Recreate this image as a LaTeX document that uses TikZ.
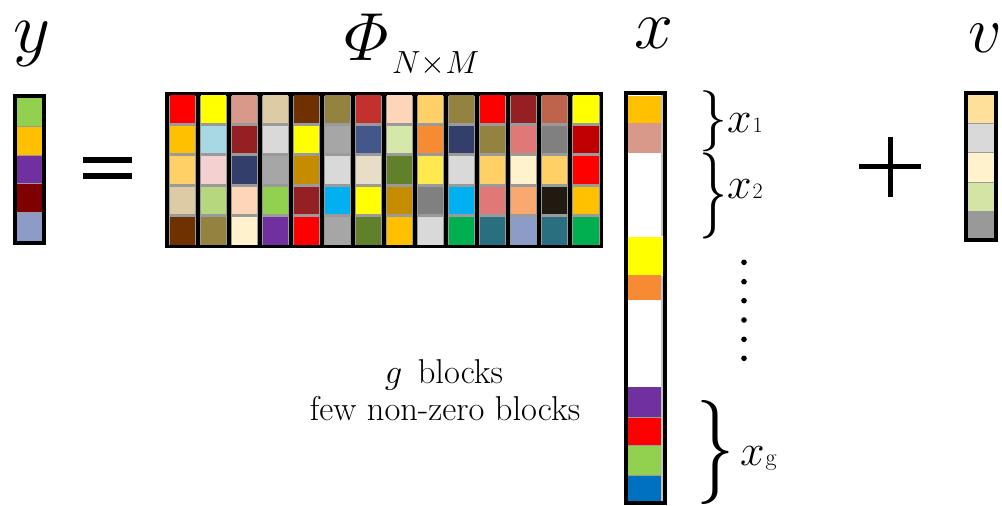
\RequirePackage{fix-cm}
\documentclass[tikz,border=0pt]{standalone}
\usepackage{amsmath}
\usepackage{graphicx}

% palette
\definecolor{cRed}{HTML}{FF0000}
\definecolor{cYellow}{HTML}{FFFF00}
\definecolor{cOrange}{HTML}{FFC000}
\definecolor{cLtOrange}{HTML}{FFD066}
\definecolor{cTan}{HTML}{DCCBA5}
\definecolor{cBrown}{HTML}{6F3100}
\definecolor{cLtBlue}{HTML}{A7D8E4}
\definecolor{cPink}{HTML}{F4D0D0}
\definecolor{cLtGreen}{HTML}{B7D77F}
\definecolor{cOlive}{HTML}{948241}
\definecolor{cSalmon}{HTML}{D8988A}
\definecolor{cDkRed}{HTML}{952024}
\definecolor{cNavy}{HTML}{333F6A}
\definecolor{cPeach}{HTML}{FDD5B8}
\definecolor{cCream}{HTML}{FFF2CC}
\definecolor{cLtGray}{HTML}{D9D9D9}
\definecolor{cGray}{HTML}{A6A6A6}
\definecolor{cGreen}{HTML}{92D050}
\definecolor{cPurple}{HTML}{7030A0}
\definecolor{cGold}{HTML}{C58C00}
\definecolor{cCyan}{HTML}{00B0F0}
\definecolor{cBrick}{HTML}{C3312F}
\definecolor{cBlue}{HTML}{44578A}
\definecolor{cSand}{HTML}{E8DEC8}
\definecolor{cMoss}{HTML}{60802A}
\definecolor{cPaleGreen}{HTML}{D6E8A9}
\definecolor{cTangerine}{HTML}{F68B34}
\definecolor{cLemon}{HTML}{FFE94F}
\definecolor{cMidGray}{HTML}{808080}
\definecolor{cEmerald}{HTML}{00B050}
\definecolor{cRose}{HTML}{E07878}
\definecolor{cTeal}{HTML}{2A6F80}
\definecolor{cApricot}{HTML}{F9A870}
\definecolor{cSteel}{HTML}{8C9CC6}
\definecolor{cTerra}{HTML}{BE644C}
\definecolor{cNearBlack}{HTML}{201A10}
\definecolor{cCrimson}{HTML}{C00000}
\definecolor{cMaroon}{HTML}{7F0000}
\definecolor{cButter}{HTML}{FFE09A}
\definecolor{cSage}{HTML}{D3E4A4}
\definecolor{cStone}{HTML}{999999}
\definecolor{cRoyal}{HTML}{0070C0}
\definecolor{cSep}{HTML}{9A9A9A}

\tikzset{
  vecframe/.style={draw=black, line width=4pt},
  cellsep/.style={draw=cSep, line width=0.8pt},
  biglabel/.style={anchor=base, inner sep=0pt},
  txt/.style={anchor=base, inner sep=0pt, font=\fontsize{34.5}{40}\selectfont},
  sublabel/.style={anchor=base west, inner sep=0pt},
  bracenode/.style={anchor=west, inner sep=0pt},
  opbar/.style={line width=6pt},
}

% a stretched closing brace of given width and total height
\newcommand{\blockbrace}[2]{\resizebox*{#1}{#2}{\}}}
% block label: italic x with an upright index set beside it
\newcommand{\blocklabel}[2]{\fontsize{44}{44}\selectfont$x$\kern1pt\fontsize{#2}{#2}\selectfont #1}

\begin{document}
\begin{tikzpicture}[x=1pt, y=-1pt]
\useasboundingbox (0,0) rectangle (1002,506);

% ---------- y vector ----------
\node[biglabel] (ylab) at (32,52) {\fontsize{72}{72}\selectfont$y$};
\foreach \clr [count=\r from 0] in {cGreen,cOrange,cPurple,cMaroon,cSteel}{
  \fill[\clr] (17,{98+\r*28.6}) rectangle (42,{98+(\r+1)*28.6});
}
\foreach \r in {1,...,4}{
  \draw[cellsep] (17,{98+\r*28.6}) -- (42,{98+\r*28.6});
}
\draw[vecframe] (15,96) rectangle (44,243);

% ---------- equals ----------
\coordinate (eqA) at (83,160);
\coordinate (eqB) at (132,160);
\coordinate (eqC) at (83,176);
\coordinate (eqD) at (132,176);
\draw[opbar] (eqA) -- (eqB);
\draw[opbar] (eqC) -- (eqD);

% ---------- matrix Phi ----------
\node[sublabel] (philab) at (344,60) {\fontsize{68}{68}\selectfont$\varPhi$};
\node[sublabel] (phisub) at (392,73) {\fontsize{32}{32}\selectfont$N{\times}M$};

\fill[black] (165,92) rectangle (603,248);
\foreach \col [count=\k from 0] in {
  {cRed,cOrange,cLtOrange,cTan,cBrown},
  {cYellow,cLtBlue,cPink,cLtGreen,cOlive},
  {cSalmon,cDkRed,cNavy,cPeach,cCream},
  {cTan,cLtGray,cGray,cGreen,cPurple},
  {cBrown,cYellow,cGold,cDkRed,cRed},
  {cOlive,cGray,cLtGray,cCyan,cGray},
  {cBrick,cBlue,cSand,cYellow,cMoss},
  {cPeach,cPaleGreen,cMoss,cGold,cOrange},
  {cLtOrange,cTangerine,cLemon,cMidGray,cLtGray},
  {cOlive,cNavy,cLtGray,cCyan,cEmerald},
  {cRed,cOlive,cLtOrange,cRose,cTeal},
  {cDkRed,cRose,cCream,cApricot,cSteel},
  {cTerra,cMidGray,cLtOrange,cNearBlack,cTeal},
  {cYellow,cCrimson,cRed,cOrange,cEmerald}}{
  \pgfmathsetmacro{\xl}{166.75+\k*31.036+1.75}
  \pgfmathsetmacro{\xr}{166.75+(\k+1)*31.036-1.75}
  \fill[cSep] (\xl,95.5) rectangle (\xr,244.5);
  \foreach \clr [count=\r from 0] in \col {
    \fill[\clr] ({\xl+1},{93.75+\r*30.5+1.6}) rectangle ({\xr-1},{93.75+(\r+1)*30.5-1.6});
  }
}

% ---------- x vector ----------
\node[biglabel] (xlab) at (654,48) {\fontsize{70}{70}\selectfont$x$};
\fill[white] (628,95) rectangle (663,501);
\fill[cOrange]    (628,96)  rectangle (661,123);
\fill[cSalmon]    (628,123) rectangle (661,153);
\fill[cYellow]    (628,237) rectangle (663,275);
\fill[cTangerine] (628,275) rectangle (661,300);
\fill[cPurple]    (628,387) rectangle (661,417);
\fill[cRed]       (628,417) rectangle (661,445);
\fill[cGreen]     (628,445) rectangle (661,475);
\fill[cRoyal]     (628,475) rectangle (661,502);
\draw[cellsep] (628,445) -- (661,445);
\draw[cellsep] (628,475) -- (661,475);
\draw[cellsep] (628,417) -- (661,417);
\draw[draw=cSep!60, line width=1.5pt] (662,95) -- (662,236) (662,276) -- (662,501);
\draw[vecframe] (626,93) rectangle (665,503);

% ---------- block braces ----------
\node[bracenode] (br1) at (699,121) {\blockbrace{28pt}{61pt}};
\node[bracenode] (br2) at (699,196) {\blockbrace{28pt}{86pt}};
\node[bracenode] (brg) at (696,452) {\blockbrace{38pt}{104pt}};

\node[sublabel] (x1lab) at (727,132) {\blocklabel{1}{22}};
\node[sublabel] (x2lab) at (727,198) {\blocklabel{2}{22}};
\node[sublabel] (xglab) at (740,465) {\blocklabel{g}{24}};

% vertical ellipsis between blocks
\foreach \d [count=\i] in {262.3,281.7,300.7,320,339.3,358.3}{
  \fill[black] (744,\d) circle (2.8);
}

% ---------- caption ----------
\node[txt] (cap1) at (444,383) {$g$\hspace{0.45em}blocks};
\node[txt] (cap2) at (445,420) {few non-zero blocks};

% ---------- plus ----------
\coordinate (plL) at (859,166);
\coordinate (plR) at (921,166);
\coordinate (plT) at (890.5,137);
\coordinate (plB) at (890.5,197);
\draw[line width=5pt] (plL) -- (plR);
\draw[line width=5pt] (plT) -- (plB);

% ---------- v vector ----------
\node[biglabel] (vlab) at (985,52) {\fontsize{66}{66}\selectfont$v$};
\foreach \clr/\a/\b in {cButter/95/123, cLtGray/123/152, cCream/152/182, cSage/182/211, cStone/211/238}{
  \fill[\clr] (968,\a) rectangle (994,\b);
}
\foreach \yy in {123,152,182,211}{
  \draw[cellsep] (968,\yy) -- (994,\yy);
}
\draw[vecframe] (966,93) rectangle (996,240);

\end{tikzpicture}
\end{document}
